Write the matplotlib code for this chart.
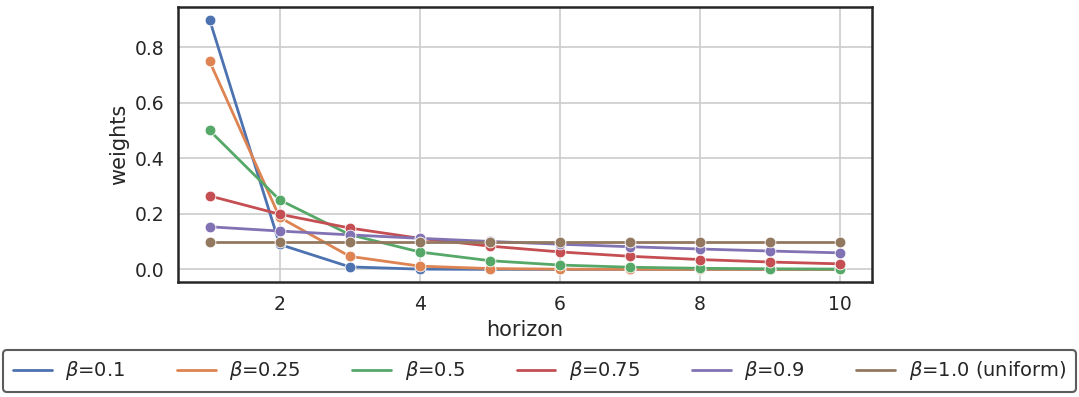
import matplotlib.pyplot as plt
import seaborn as sns

sns.set_theme(style="whitegrid")
plt.rcParams['font.family'] = ['DejaVu Sans']

horizon = [1, 2, 3, 4, 5, 6, 7, 8, 9, 10]
betas = ['0.1', '0.25', '0.5', '0.75', '0.9', '1.0 (uniform)']
weights = [
    [0.9, 0.09, 0.009, 0.0009, 0.00009, 0.000009, 0.0000009, 0.0, 0.0, 0.0],
    [0.75, 0.1875, 0.0469, 0.0117, 0.0029, 0.00073, 0.00018, 0.00005, 0.00001, 0.0],
    [0.5005, 0.2502, 0.1251, 0.0626, 0.0313, 0.0156, 0.0078, 0.0039, 0.002, 0.001],
    [0.2649, 0.1987, 0.149, 0.1118, 0.0838, 0.0629, 0.0472, 0.0354, 0.0265, 0.0199],
    [0.1535, 0.1382, 0.1244, 0.1119, 0.1007, 0.0907, 0.0816, 0.0734, 0.0661, 0.0595],
    [0.1, 0.1, 0.1, 0.1, 0.1, 0.1, 0.1, 0.1, 0.1, 0.1],
]

colors = sns.color_palette("deep")

fig = plt.figure(figsize=(10.79, 3.97), dpi=100)
ax = fig.add_axes([0.165, 0.29, 0.643, 0.692])

for i, (b, w) in enumerate(zip(betas, weights)):
    ax.plot(horizon, w, color=colors[i], lw=2, label=rf'$\beta$={b}')
    ax.scatter(horizon, w, color=colors[i], s=60, edgecolor='white', linewidth=0.6, zorder=3)

ax.set_xlabel('horizon', fontsize=15)
ax.set_ylabel('weights', fontsize=15)
ax.set_xticks([2, 4, 6, 8, 10])
ax.set_yticks([0.0, 0.2, 0.4, 0.6, 0.8])
ax.tick_params(labelsize=13.5)
for s in ax.spines.values():
    s.set_color('#262626')
    s.set_linewidth(1.8)
ax.grid(color='#cccccc', lw=1.2)

leg = fig.legend(loc='lower center', bbox_to_anchor=(0.5, 0.0), ncol=6, fontsize=14,
                 frameon=True, edgecolor='#333333', fancybox=True, handlelength=2,
                 handletextpad=0.7, columnspacing=2.65, borderaxespad=0.25,
                 borderpad=0.5)
leg.get_frame().set_linewidth(1.5)
for h in leg.get_lines():
    h.set_linewidth(2)

fig.savefig('out.png', dpi=100)
